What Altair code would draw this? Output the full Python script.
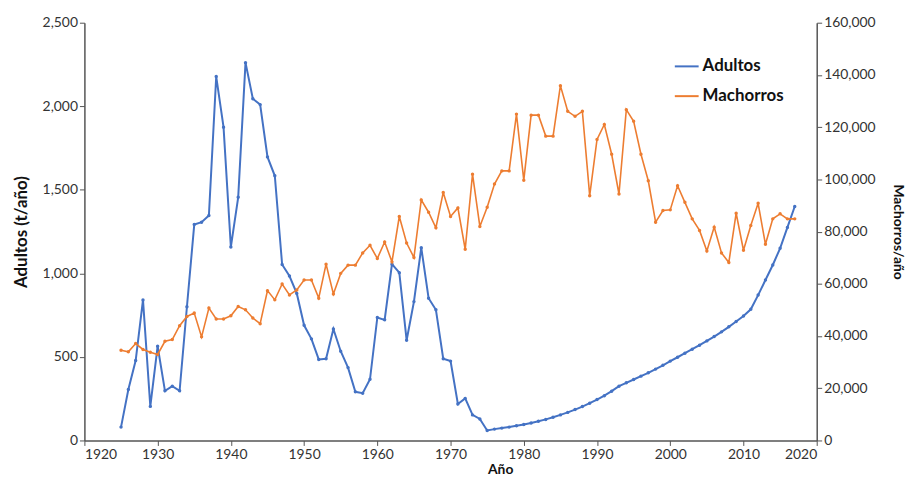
import altair as alt
import pandas as pd

years = list(range(1925, 2018))

adultos = [
    80, 305, 478, 841, 204, 564, 297, 325, 297, 800,
    1292, 1306, 1346, 2178, 1875, 1158, 1455, 2261, 2045, 2010,
    1697, 1584, 1053, 984, 880, 689, 608, 485, 489, 667,
    534, 436, 291, 283, 366, 736, 722, 1055, 1004, 600,
    831, 1154, 851, 782, 489, 475, 218, 252, 153, 129,
    60, 68, 74, 80, 88, 96, 105, 115, 126, 139,
    153, 168, 185, 203, 223, 245, 268, 295, 325, 345,
    365, 385, 405, 427, 450, 475, 498, 522, 546, 570,
    596, 622, 650, 680, 712, 745, 785, 870, 960, 1050,
    1150, 1275, 1400,
]

machorros = [
    34580, 33970, 37130, 34850, 33820, 32950, 38000, 38650, 43970, 47510,
    48800, 39680, 50700, 46500, 46500, 47770, 51300, 50050, 46900, 44730,
    57390, 53850, 59930, 55750, 57650, 61450, 61450, 54500, 67530, 56130,
    64000, 67150, 67150, 71830, 74750, 69700, 76010, 68410, 85780, 75630,
    70080, 92120, 87410, 81480, 95010, 85780, 89080, 73240, 102000, 81980,
    89320, 98200, 103250, 103250, 125000, 99700, 124600, 124600, 116560, 116560,
    135900, 126060, 124160, 126060, 93760, 115310, 121010, 109610, 94400, 126710,
    122260, 109610, 99460, 83610, 88060, 88320, 97560, 91210, 84880, 80450,
    72590, 81710, 71830, 68180, 87030, 72850, 82340, 90830, 75140, 84880,
    86800, 84880, 84880,
]

series_names = ["Adultos", "Machorros"]
series_colors = ["#4472C4", "#ED7D31"]

df_a = pd.DataFrame({"Año": years, "valor": adultos, "serie": "Adultos"})
df_m = pd.DataFrame({"Año": years, "valor": machorros, "serie": "Machorros"})

FONT = "Lato"

color = alt.Color(
    "serie:N",
    scale=alt.Scale(domain=series_names, range=series_colors),
    legend=alt.Legend(
        title=None,
        orient="none",
        legendX=594,
        legendY=31,
        symbolType="stroke",
        symbolSize=576,
        symbolStrokeWidth=2,
        labelFont=FONT,
        labelFontSize=17,
        labelFontWeight="bold",
        labelColor="#111111",
        labelOffset=3,
        rowPadding=9,
    ),
)

x = alt.X(
    "Año:Q",
    scale=alt.Scale(domain=[1920, 2020], nice=False),
    axis=alt.Axis(
        values=list(range(1920, 2021, 10)),
        format="d",
        title="Año",
        titlePadding=1,
        titleX=419,
        titleFontSize=14,
    ),
)

left = alt.Chart(df_a).mark_line(
    strokeWidth=2,
    point=alt.OverlayMarkDef(size=12, filled=True),
).encode(
    x=x,
    y=alt.Y(
        "valor:Q",
        scale=alt.Scale(domain=[0, 2500], nice=False),
        axis=alt.Axis(
            values=list(range(0, 2501, 500)),
            format=",.0f",
            title="Adultos (t/año)",
            titlePadding=12,
            titleFontSize=17,
        ),
    ),
    color=color,
)

right = alt.Chart(df_m).mark_line(
    strokeWidth=1.6,
    point=alt.OverlayMarkDef(size=12, filled=True),
).encode(
    x=x,
    y=alt.Y(
        "valor:Q",
        scale=alt.Scale(domain=[0, 160000], nice=False),
        axis=alt.Axis(
            orient="right",
            values=list(range(0, 160001, 20000)),
            format=",.0f",
            title="Machorros/año",
            titlePadding=15,
            titleFontSize=14,
        ),
    ),
    color=color,
)

chart = (
    alt.layer(left, right)
    .resolve_scale(y="independent")
    .properties(
        width=738,
        height=421,
        autosize=alt.AutoSizeParams(type="none"),
        padding={"left": 77, "top": 13, "right": 92, "bottom": 37},
        background="white",
    )
    .configure_view(stroke=None)
    .configure_axis(
        grid=False,
        domainColor="#555555",
        domainWidth=1.5,
        tickColor="#555555",
        tickSize=5,
        labelFont=FONT,
        labelFontSize=14,
        labelColor="#333333",
        titleFont=FONT,
        titleFontWeight="bold",
        titleColor="#111111",
    )
)

chart.save("out.html", embed_options={"renderer": "svg", "actions": False})
